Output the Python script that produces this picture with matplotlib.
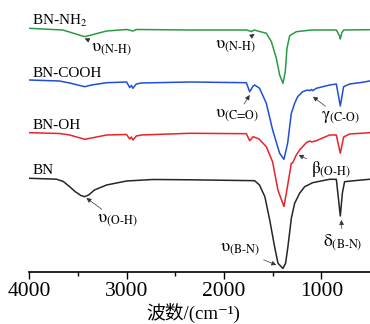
import numpy as np
import matplotlib
matplotlib.use("Agg")
import matplotlib.pyplot as plt

plt.rcParams['font.family'] = ['Liberation Serif', 'Noto Sans CJK SC', 'DejaVu Serif']
plt.rcParams['mathtext.fontset'] = 'stix'

# 各样品红外光谱（相对基线的透过率变化，a.u.）
wn_nh2 = [4000, 3655, 3430, 3205, 3000, 2935, 2900, 2350, 1770, 1716, 1690, 1565,
          1513, 1462, 1428, 1394, 1370, 1353, 1325, 1257, 1100, 846, 812, 805, 790,
          771, 504]
t_nh2 = [1.2, -0.5, -7.2, -1.5, 0, -1.5, 0, -0.5, -0.5, -2, -0.5, -3.8,
         -12.2, -28.8, -45.5, -53.8, -42.2, -18.8, -6.2, -2.2, -0.5, -0.5, -6.5, -9.5, -3.5,
         -0.5, -0.2]

wn_cooh = [4000, 3690, 3585, 3430, 3360, 3205, 3000, 2968, 2950, 2935, 2900, 2850,
           2350, 1770, 1736, 1700, 1685, 1634, 1565, 1500, 1428, 1384, 1346, 1308,
           1274, 1243, 1192, 1141, 1120, 1100, 1089, 1051, 915, 846, 805, 771, 709,
           576, 504]
t_cooh = [1.5, 0.5, -1.5, -5.2, -3.5, -1.2, -0.5, -6, -4, -6.8, -2.5, -1.5,
          -0.5, -1.2, -10.2, -4.5, -3.5, -6.8, -21.8, -48.5, -71.8, -77.8, -61.8, -31.8,
          -21.8, -15.2, -10.2, -8.5, -9.2, -8, -9.2, -6.8, -3.5, -2.5, -24.5, -5.2, -2.5,
          -0.8, 0.5]

wn_oh = [4000, 3690, 3585, 3430, 3360, 3205, 3000, 2968, 2950, 2935, 2900, 2850,
         2350, 1770, 1736, 1700, 1640, 1565, 1500, 1446, 1384, 1359, 1308, 1295,
         1257, 1223, 1154, 1120, 1100, 1051, 915, 846, 805, 771, 709, 504]
t_oh = [0.6, -0.2, -1.7, -6, -4.7, -1.7, -1.2, -5.7, -3.7, -6.7, -2.7, -1.7,
        0, -0.4, -7.4, -3.4, -5.7, -13.4, -28.7, -56.7, -73.2, -59.7, -30, -29.7,
        -21.7, -16.7, -9.4, -7.7, -8.7, -7.4, -1.7, -1.7, -20, -3.7, -0.7, 0.6]

wn_bn = [4000, 3720, 3650, 3585, 3530, 3470, 3430, 3390, 3330, 3205, 3000, 2730,
         2350, 1685, 1635, 1580, 1530, 1480, 1445, 1394, 1367, 1343, 1308, 1274,
         1223, 1171, 1089, 915, 846, 830, 805, 784, 761, 640, 504]
t_bn = [0.7, -0.2, -2.5, -7.7, -12.5, -16.5, -17.7, -16, -11, -6, -2, -0.5,
        -0.8, -1.7, -6, -17.7, -41, -67.7, -84.3, -89.5, -84.3, -67.7, -39.3, -24.3,
        -14.3, -7.7, -3.7, -0.3, -0.3, -14.3, -37, -14.3, -2.7, -1.5, -0.3]

names = ['BN-NH$_2$', 'BN-COOH', 'BN-OH', 'BN']
colors = ['#2a9a45', '#1f4fd8', '#e8232b', '#262626']
offsets = [243, 191, 139.2, 93.5]

fig = plt.figure(figsize=(3.7, 3.24), dpi=100)
ax = fig.add_axes([0.079, 0.159, 0.921, 0.841])

series = [(wn_nh2, t_nh2), (wn_cooh, t_cooh), (wn_oh, t_oh), (wn_bn, t_bn)]
for (wn, t), name, c, off in zip(series, names, colors, offsets):
    ax.plot(wn, np.array(t) + off, color=c, lw=1.1)
    ax.text(3970, off + 4.5, name, fontsize=11, ha='left', va='baseline')

# 峰归属标注
peaks = [
    (r'$\mathrm{υ}_{\rm (N\text{-}H)}$', (3430, 234), (3153, 222.5)),
    (r'$\mathrm{υ}_{\rm (N\text{-}H)}$', (1685, 238.5), (1880, 225.5)),
    (r'$\mathrm{υ}_{\rm (C\text{=}O)}$', (1736, 177.5), (1870, 156.5)),
    (r'$\mathrm{γ}_{\rm (C\text{-}O)}$', (1086, 175.8), (800, 154.5)),
    (r'$\mathrm{β}_{\rm (O\text{-}H)}$', (1233, 117.5), (905, 102.5)),
    (r'$\mathrm{δ}_{\rm (B\text{-}N)}$', (795, 52.5), (780, 29.5)),
    (r'$\mathrm{υ}_{\rm (B\text{-}N)}$', (1462, 7.5), (1839, 22.5)),
    (r'$\mathrm{υ}_{\rm (O\text{-}H)}$', (3413, 74.5), (3091, 51.5)),
]
for label, xy, xyt in peaks:
    ax.annotate(label, xy=xy, xytext=xyt, fontsize=12.5, ha='center', va='center',
                arrowprops=dict(arrowstyle='-|>', color='#333333', lw=0.5,
                                mutation_scale=7, shrinkA=1, shrinkB=0))

ax.set_xlim(4000, 500)
ax.set_ylim(0, 272.5)
ax.set_xticks([4000, 3000, 2000, 1000])
ax.set_xticks([3500, 2500, 1500], minor=True)
ax.tick_params(axis='x', which='major', length=5, width=1, labelsize=15.5, pad=2)
ax.tick_params(axis='x', which='minor', length=3, width=1)
ax.set_yticks([])
for s in ['top', 'right', 'left']:
    ax.spines[s].set_visible(False)
ax.spines['bottom'].set_linewidth(1.2)
ax.set_xlabel('波数/(cm⁻¹)', fontsize=13.5)
ax.xaxis.set_label_coords(0.48, -0.11)

fig.savefig('out.png', dpi=100)
